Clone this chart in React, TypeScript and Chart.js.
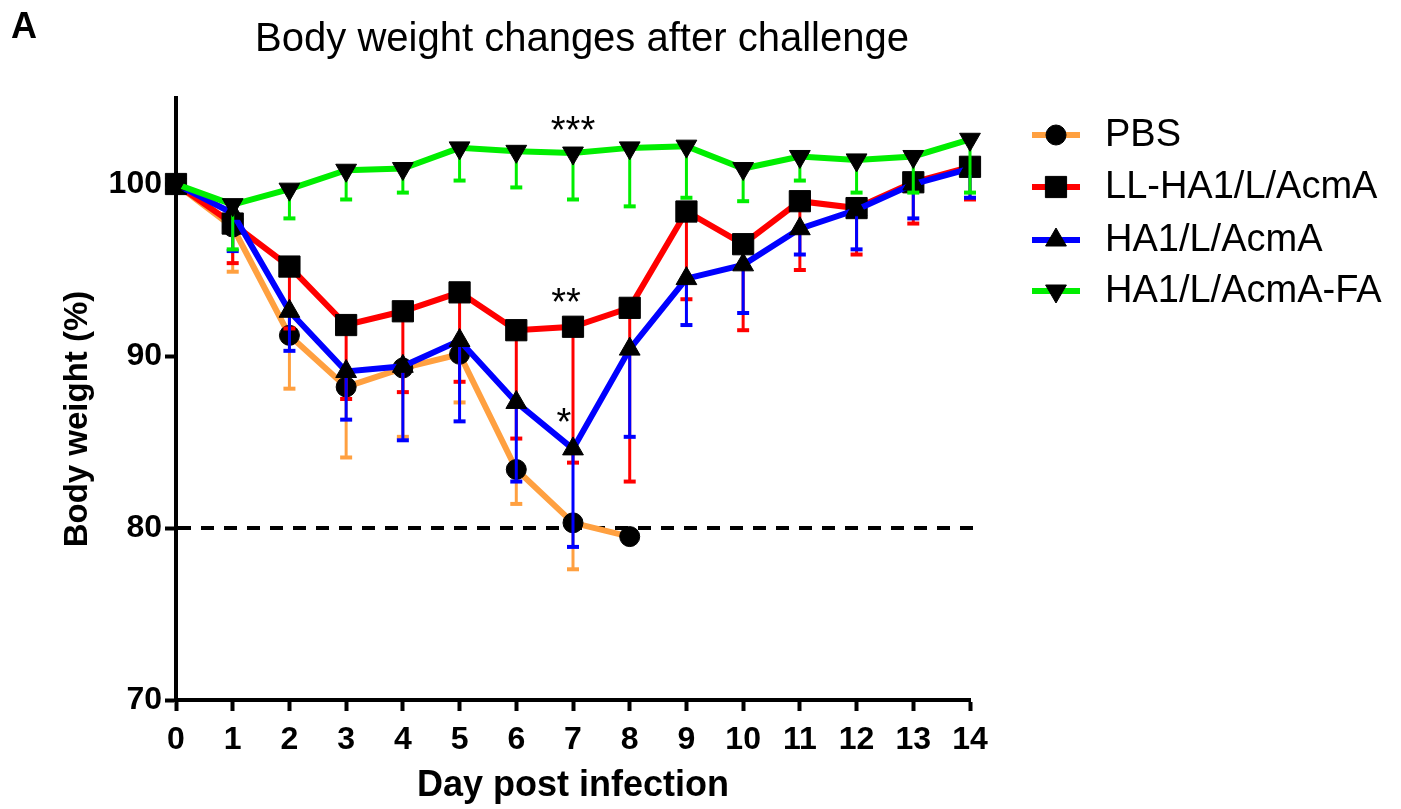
import React, { useEffect, useRef } from "react";
import { Chart, registerables } from "chart.js";
import { drawPoint } from "chart.js/helpers";

Chart.register(...registerables);

// ---------- data ----------
const days = [0, 1, 2, 3, 4, 5, 6, 7, 8, 9, 10, 11, 12, 13, 14];
const seriesNames = ["PBS", "LL-HA1/L/AcmA", "HA1/L/AcmA", "HA1/L/AcmA-FA"];

const pbsMean = [100, 97.5, 91.2, 88.2, 89.3, 90.1, 83.4, 80.3, 79.5, null, null, null, null, null, null];
const pbsLower = [null, 94.9, 88.1, 84.1, 85.3, 87.3, 81.4, 77.6, null, null, null, null, null, null, null];

const llMean = [100, 97.7, 95.2, 91.8, 92.6, 93.7, 91.5, 91.7, 92.8, 98.4, 96.5, 99.0, 98.6, 100.1, 101.0];
const llLower = [null, 95.4, 91.6, 87.5, 87.9, 88.5, 85.2, 83.8, 82.7, 93.3, 91.5, 95.0, 95.9, 97.7, 99.1];

const ha1Mean = [100, 98.3, 92.6, 89.1, 89.4, 90.9, 87.3, 84.6, 90.4, 94.5, 95.3, 97.4, 98.5, 100.0, 100.9];
const ha1Lower = [null, 96.1, 90.3, 86.3, 85.1, 86.2, 82.7, 78.9, 85.3, 91.8, 92.5, 95.9, 96.2, 98.0, 99.2];

const faMean = [100, 98.8, 99.7, 100.8, 100.9, 102.1, 101.9, 101.8, 102.1, 102.2, 100.9, 101.6, 101.4, 101.6, 102.6];
const faLower = [null, 96.2, 98.0, 99.1, 99.5, 100.2, 99.8, 99.1, 98.7, 99.2, 99.0, 100.2, 99.5, 99.5, 99.5];

const yTickValues = [70, 80, 90, 100];
const thresholdValue = 80;

const starLabels = ["***", "**", "*"];
const starDays = [7, 7, 7];
const starValues = [103.66, 93.66, 86.69];

// ---------- styles ----------
const FONT = "'Liberation Sans', Arial, Helvetica, sans-serif";
const colors = ["#FFA040", "#FF0000", "#0000FF", "#00EE00"];
const pointStyles = ["circle", "rect", "triangle", "triangle"];
const pointRadii = [10, 15, 12, 12];
const pointRotations = [0, 0, 0, 180];
const starOffsetsX = [0, -7, -9];

const meanArrays = [pbsMean, llMean, ha1Mean, faMean];
const lowerArrays = [pbsLower, llLower, ha1Lower, faLower];

const errorBarPlugin = {
  id: "errorBars",
  beforeDatasetDraw(chart: any, args: any) {
    const i = args.index;
    const lows = lowerArrays[i];
    const means = meanArrays[i];
    const xs = chart.scales.x;
    const ys = chart.scales.y;
    const ctx = chart.ctx;
    ctx.save();
    ctx.strokeStyle = colors[i];
    ctx.lineCap = "butt";
    for (let j = 0; j < days.length; j++) {
      const m = means[j];
      const l = lows[j];
      if (m == null || l == null) continue;
      const x = xs.getPixelForValue(days[j]);
      const y0 = ys.getPixelForValue(m);
      const y1 = ys.getPixelForValue(l);
      ctx.lineWidth = 3;
      ctx.beginPath();
      ctx.moveTo(x, y0);
      ctx.lineTo(x, y1);
      ctx.stroke();
      ctx.lineWidth = 4;
      ctx.beginPath();
      ctx.moveTo(x - 6, y1);
      ctx.lineTo(x + 6, y1);
      ctx.stroke();
    }
    ctx.restore();
  },
};

const decorPlugin = {
  id: "decor",
  beforeDatasetsDraw(chart: any) {
    const ctx = chart.ctx;
    const ys = chart.scales.y;
    const area = chart.chartArea;
    const y = ys.getPixelForValue(thresholdValue);
    ctx.save();
    ctx.strokeStyle = "#000";
    ctx.lineWidth = 4;
    ctx.setLineDash([13, 10]);
    ctx.beginPath();
    ctx.moveTo(area.left + 2, y);
    ctx.lineTo(area.right + 12, y);
    ctx.stroke();
    ctx.restore();
  },
  afterDraw(chart: any) {
    const ctx = chart.ctx;
    const xs = chart.scales.x;
    const ys = chart.scales.y;
    const area = chart.chartArea;
    ctx.save();
    ctx.fillStyle = "#000";

    // panel letter
    ctx.font = `bold 36px ${FONT}`;
    ctx.textAlign = "left";
    ctx.textBaseline = "alphabetic";
    ctx.fillText("A", 11, 38);

    // title
    ctx.font = `40px ${FONT}`;
    ctx.textAlign = "center";
    ctx.fillText("Body weight changes after challenge", 582, 51);

    // axis titles
    ctx.font = `bold 36px ${FONT}`;
    ctx.textAlign = "center";
    ctx.textBaseline = "middle";
    ctx.fillText("Day post infection", (area.left + area.right) / 2, 786);
    ctx.font = `bold 33px ${FONT}`;
    ctx.save();
    ctx.translate(78, 419);
    ctx.rotate(-Math.PI / 2);
    ctx.fillText("Body weight (%)", 0, 0);
    ctx.restore();

    // stars
    ctx.font = `38px ${FONT}`;
    ctx.textAlign = "center";
    ctx.textBaseline = "alphabetic";
    for (let k = 0; k < starLabels.length; k++) {
      const x = xs.getPixelForValue(starDays[k]) + starOffsetsX[k];
      const y = ys.getPixelForValue(starValues[k]);
      ctx.fillText(starLabels[k], x, y + 0.58 * 38);
    }

    // legend
    const rowY = [135, 187, 240, 291];
    for (let i = 0; i < seriesNames.length; i++) {
      const y = rowY[i];
      ctx.strokeStyle = colors[i];
      ctx.lineWidth = 6;
      ctx.beginPath();
      ctx.moveTo(1032, y);
      ctx.lineTo(1080, y);
      ctx.stroke();
      ctx.fillStyle = "#000";
      ctx.strokeStyle = "#000";
      ctx.lineWidth = 1;
      drawPoint(ctx, {
        pointStyle: pointStyles[i],
        radius: pointRadii[i],
        rotation: pointRotations[i],
        borderWidth: 1,
      } as any, 1056, y);
      ctx.font = `38px ${FONT}`;
      ctx.textAlign = "left";
      ctx.textBaseline = "middle";
      ctx.fillText(seriesNames[i], 1105, y + 1);
    }
    ctx.restore();
  },
};

export default function App() {
  const canvasRef = useRef<HTMLCanvasElement | null>(null);

  useEffect(() => {
    if (!canvasRef.current) return;
    const datasets = meanArrays.map((arr, i) => ({
      label: seriesNames[i],
      data: days.map((d, j) => ({ x: d, y: arr[j] })),
      borderColor: colors[i],
      backgroundColor: colors[i],
      borderWidth: 6,
      pointStyle: pointStyles[i],
      pointRadius: pointRadii[i],
      pointRotation: pointRotations[i],
      pointBackgroundColor: "#000",
      pointBorderColor: "#000",
      pointBorderWidth: 1,
      pointHoverRadius: pointRadii[i],
      tension: 0,
      spanGaps: false,
      clip: false as any,
      order: 4 - i,
    }));

    const chart = new Chart(canvasRef.current, {
      type: "line",
      data: { datasets: datasets as any },
      options: {
        animation: false,
        responsive: true,
        maintainAspectRatio: false,
        events: [],
        layout: { padding: { left: 0, top: 98, right: 431, bottom: 0 } },
        plugins: {
          legend: { display: false },
          tooltip: { enabled: false },
          title: { display: false },
        },
        scales: {
          x: {
            type: "linear",
            min: 0,
            max: 14,
            afterFit: (s: any) => {
              s.height = 109;
            },
            afterBuildTicks: (s: any) => {
              s.ticks = days.map((d) => ({ value: d }));
            },
            ticks: {
              font: { family: FONT, size: 32, weight: "bold" },
              color: "#000",
              padding: 10,
              maxRotation: 0,
              autoSkip: false,
            },
            grid: {
              display: true,
              drawOnChartArea: false,
              drawTicks: true,
              tickLength: 11,
              tickWidth: 4,
              tickColor: "#000",
            },
            border: { display: true, color: "#000", width: 4 },
          },
          y: {
            type: "linear",
            min: 70,
            max: 105,
            afterFit: (s: any) => {
              s.width = 176;
            },
            afterBuildTicks: (s: any) => {
              s.ticks = yTickValues.map((v) => ({ value: v }));
            },
            ticks: {
              font: { family: FONT, size: 32, weight: "bold" },
              color: "#000",
              padding: 3,
            },
            grid: {
              display: true,
              drawOnChartArea: false,
              drawTicks: true,
              tickLength: 11,
              tickWidth: 4,
              tickColor: "#000",
            },
            border: { display: true, color: "#000", width: 4 },
          },
        },
      },
      plugins: [errorBarPlugin, decorPlugin],
    });
    return () => chart.destroy();
  }, []);

  return (
    <div style={{ position: "absolute", left: 0, top: 0, width: 1401, height: 809, background: "#fff" }}>
      <canvas ref={canvasRef} />
    </div>
  );
}
